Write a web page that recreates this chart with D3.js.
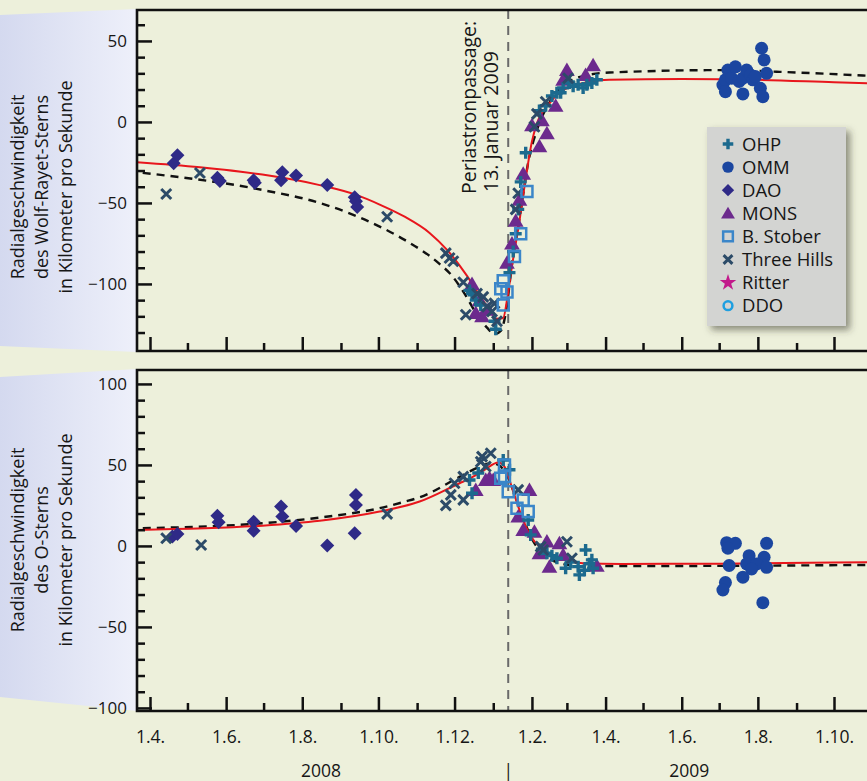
<!DOCTYPE html>
<html><head><meta charset="utf-8">
<script src="https://cdn.jsdelivr.net/npm/d3@7"></script>
<style>
html,body{margin:0;padding:0;background:#EDF0DB;}
svg{display:block;}
text{font-family:"Open Sans","DejaVu Sans",sans-serif;fill:#161616;}
</style></head><body>
<svg id="chart" width="867" height="781"></svg>
<script>
// ---------- DATA ----------
const periastron = "2009-01-13";
const xMajorLabels = ["1.4.","1.6.","1.8.","1.10.","1.12.","1.2.","1.4.","1.6.","1.8.","1.10."];
const yearLabels = [["2008","2008-08-16"],["|","2009-01-13"],["2009","2009-06-07"]];
const legendNames = ["OHP","OMM","DAO","MONS","B. Stober","Three Hills","Ritter","DDO"];
const wrTitle = ["Radialgeschwindigkeit","des Wolf-Rayet-Sterns","in Kilometer pro Sekunde"];
const oTitle = ["Radialgeschwindigkeit","des O-Sterns","in Kilometer pro Sekunde"];
const wrTicks = [-100,-50,0,50];
const oTicks = [-100,-50,0,50,100];

// Wolf-Rayet star (top panel)
const wrDAO = [["2008-04-20",-25.5],["2008-04-23",-20.5],["2008-05-25",-34.5],["2008-05-27",-36.5],["2008-06-23",-36],["2008-06-24",-37.5],["2008-07-15",-36],["2008-07-16",-31],["2008-07-27",-33],["2008-08-21",-39],["2008-09-12",-46.5],["2008-09-13",-49],["2008-09-14",-52.5]];
const wrOMM = [["2009-07-04",22.8],["2009-07-06",26],["2009-07-06",18.7],["2009-07-08",32],["2009-07-11",27],["2009-07-14",34],["2009-07-17",25],["2009-07-20",27],["2009-07-20",17.3],["2009-07-23",32],["2009-07-26",29],["2009-07-28",26],["2009-07-30",28],["2009-08-03",20.8],["2009-08-04",45.5],["2009-08-05",15.6],["2009-08-06",38.3],["2009-08-08",30]];
const wrMONS = [["2008-12-15",-100],["2008-12-18",-118],["2008-12-21",-110],["2008-12-23",-120],["2008-12-28",-116],["2009-01-12",-87],["2009-01-16",-75],["2009-01-19",-61],["2009-01-22",-48],["2009-01-25",-32],["2009-02-01",-2],["2009-02-07",-15],["2009-02-09",1],["2009-02-13",-7],["2009-02-20",10],["2009-02-26",26],["2009-03-01",32],["2009-03-16",29],["2009-03-22",35]];
const wrOHP = [["2008-12-13",-104],["2008-12-15",-106],["2008-12-18",-110],["2008-12-22",-113],["2009-01-02",-123],["2009-01-03",-128],["2009-01-14",-93],["2009-01-17",-80],["2009-01-19",-69],["2009-01-21",-54],["2009-01-23",-37],["2009-01-27",-19],["2009-02-07",7],["2009-02-12",10],["2009-02-17",16],["2009-02-21",18],["2009-02-24",18],["2009-02-26",21],["2009-03-03",24],["2009-03-06",22],["2009-03-10",23],["2009-03-14",21],["2009-03-17",23],["2009-03-21",24],["2009-03-25",26]];
const wrThreeHills = [["2008-04-14",-44.5],["2008-05-11",-31.5],["2008-10-08",-58.5],["2008-11-24",-81],["2008-11-27",-84],["2008-11-30",-86],["2008-12-08",-99],["2008-12-10",-119],["2008-12-19",-106],["2008-12-24",-108],["2008-12-27",-114],["2008-12-31",-117],["2009-01-02",-112],["2009-01-04",-123],["2009-01-19",-54],["2009-01-21",-44],["2009-02-03",-3],["2009-02-05",5],["2009-02-12",12.5],["2009-03-02",27]];
const wrStober = [["2009-01-07",-103],["2009-01-09",-98],["2009-01-09",-113],["2009-01-12",-105],["2009-01-18",-83],["2009-01-23",-69],["2009-01-28",-43]];
const wrRitter = [];
const wrDDO = [];
const wrFitRed = [["2008-03-15",-24.5],["2008-05-11",-28],["2008-06-30",-32.5],["2008-08-15",-39],["2008-09-15",-45.5],["2008-10-02",-51],["2008-10-22",-58.5],["2008-11-11",-68.5],["2008-11-25",-79],["2008-12-11",-95],["2008-12-21",-107],["2008-12-29",-116],["2009-01-04",-121.5],["2009-01-09",-121],["2009-01-12",-110],["2009-01-16",-89],["2009-01-21",-66],["2009-01-28",-30],["2009-02-01",-12],["2009-02-05",-1],["2009-02-15",11.5],["2009-03-04",21.8],["2009-04-04",26],["2009-06-01",26.5],["2009-08-01",26],["2009-10-01",24.5],["2009-11-05",23.7]];
const wrFitDash = [["2008-03-15",-30.5],["2008-06-30",-42],["2008-08-15",-50],["2008-10-02",-64.6],["2008-10-22",-72.8],["2008-11-18",-87],["2008-11-29",-95],["2008-12-09",-106],["2008-12-19",-119],["2008-12-27",-127],["2009-01-02",-131],["2009-01-07",-129],["2009-01-11",-118],["2009-01-16",-88],["2009-01-23",-55],["2009-01-29",-25],["2009-02-05",-5],["2009-02-15",12],["2009-02-27",23],["2009-03-15",28.5],["2009-04-04",30.5],["2009-07-05",32],["2009-08-16",31],["2009-11-05",28.2]];

// O star (bottom panel)
const oDAO = [["2008-04-19",5.8],["2008-04-23",7.4],["2008-05-25",18.7],["2008-05-26",14.6],["2008-06-23",15],["2008-06-23",9.3],["2008-07-15",24.3],["2008-07-16",18.1],["2008-07-27",12.3],["2008-08-21",0.2],["2008-09-12",7.8],["2008-09-13",31.5],["2008-09-13",25.3]];
const oOMM = [["2009-07-07",2],["2009-07-14",1.6],["2009-08-08",1.6],["2009-07-08",-1.4],["2009-07-25",-6],["2009-08-06",-7],["2009-07-09",-12.1],["2009-07-23",-11.1],["2009-07-31",-11.1],["2009-07-27",-14.2],["2009-08-08",-13.2],["2009-07-20",-19.3],["2009-07-06",-22.6],["2009-07-04",-27.2],["2009-08-05",-35]];
const oMONS = [["2008-12-18",34.6],["2008-12-26",40.7],["2008-12-29",42],["2009-01-01",40.7],["2009-01-21",18.1],["2009-01-25",9.9],["2009-01-30",34.6],["2009-02-03",8.8],["2009-02-07",-4.5],["2009-02-13",2.7],["2009-02-15",-12.8],["2009-02-23",1.7],["2009-02-26",-5.6],["2009-03-25",-12.3]];
const oOHP = [["2008-12-13",40.7],["2008-12-15",32.5],["2008-12-20",45],["2009-01-09",53],["2009-01-14",47],["2009-01-29",16],["2009-01-31",6.8],["2009-02-09",-2],["2009-02-13",-4.5],["2009-02-17",-6],["2009-02-21",-7.6],["2009-02-28",-13.8],["2009-03-04",-10],["2009-03-10",-12.8],["2009-03-11",-17.9],["2009-03-15",-15],["2009-03-16",-2.5],["2009-03-19",-11],["2009-03-21",-8.6],["2009-03-22",-13.8]];
const oThreeHills = [["2008-04-14",4.7],["2008-05-12",0.6],["2008-10-08",19.8],["2008-11-24",25],["2008-11-28",31.5],["2008-12-01",38.7],["2008-12-08",28.4],["2008-12-08",42.8],["2008-12-22",52],["2008-12-23",55.1],["2008-12-26",49],["2008-12-30",57.2],["2009-01-21",34.6],["2009-02-08",-0.4],["2009-02-10",-2.5],["2009-03-01",2.6],["2009-03-05",-7.6]];
const oStober = [["2009-01-07",41.8],["2009-01-10",42.8],["2009-01-10",50],["2009-01-13",33.5],["2009-01-20",23.3],["2009-01-25",28.4],["2009-01-29",21.2]];
const oRitter = [];
const oDDO = [];
const oFitRed = [["2008-03-15",9.8],["2008-06-30",12.5],["2008-08-15",15.5],["2008-10-02",21.2],["2008-11-03",27.4],["2008-12-05",38.7],["2008-12-13",41.5],["2008-12-25",47],["2009-01-05",51.5],["2009-01-10",49],["2009-01-16",36],["2009-01-23",20],["2009-01-31",6],["2009-02-08",-1],["2009-02-15",-4.5],["2009-03-01",-9],["2009-03-14",-10.7],["2009-04-14",-11.1],["2009-07-01",-11],["2009-10-01",-10.2],["2009-11-05",-10]];
const oFitDash = [["2008-03-15",10.8],["2008-06-30",14],["2008-08-15",17.5],["2008-10-02",23.3],["2008-10-22",27.3],["2008-11-03",30],["2008-12-05",42.6],["2008-12-20",48.5],["2008-12-30",51],["2009-01-05",50],["2009-01-13",42],["2009-01-18",32],["2009-01-25",17],["2009-02-02",3],["2009-02-12",-6],["2009-02-25",-11],["2009-03-15",-12.5],["2009-07-01",-12.3],["2009-11-05",-11.7]];

// ---------- STYLES ----------
const styles = {
  "OHP":        {shape:"plus",     color:"#1C6A8E", filled:false, sw:3.4, s:6},
  "OMM":        {shape:"circle",   color:"#1B46A0", filled:true,  sw:0,   s:6.5},
  "DAO":        {shape:"diamond",  color:"#2F2A87", filled:true,  sw:0,   s:7},
  "MONS":       {shape:"triangle", color:"#6C2A8D", filled:true,  sw:0,   s:7.5},
  "B. Stober":  {shape:"square",   color:"#3B86C9", filled:false, sw:2.5, s:5.5},
  "Three Hills":{shape:"times",    color:"#2C4B68", filled:false, sw:3,   s:5},
  "Ritter":     {shape:"star",     color:"#C2198B", filled:true,  sw:0,   s:6.5},
  "DDO":        {shape:"circle",   color:"#1E9FE0", filled:false, sw:2.5, s:5}
};
function symPath(shape, s){
  switch(shape){
    case "plus": return `M${-s},0H${s}M0,${-s}V${s}`;
    case "times": return `M${-s},${-s}L${s},${s}M${-s},${s}L${s},${-s}`;
    case "diamond": return `M0,${-s}L${s},0L0,${s}L${-s},0Z`;
    case "triangle": return `M0,${-s}L${s*1.05},${s*0.8}L${-s*1.05},${s*0.8}Z`;
    case "square": return `M${-s},${-s}H${s}V${s}H${-s}Z`;
    case "circle": return d3.symbol(d3.symbolCircle, Math.PI*s*s)();
    case "star": return d3.symbol(d3.symbolStar, s*s*2.6)();
  }
}

// ---------- CHART ----------
const W=867, H=781, left=137, right=867;
const svg = d3.select("#chart");
const defs = svg.append("defs");
const grad = defs.append("linearGradient").attr("id","lav").attr("x1","0").attr("x2","1").attr("y1","0").attr("y2","0");
grad.append("stop").attr("offset","0").attr("stop-color","#D4D9EF");
grad.append("stop").attr("offset","1").attr("stop-color","#EEF0FA");
const f = defs.append("filter").attr("id","shadow").attr("x","-20%").attr("y","-20%").attr("width","150%").attr("height","150%");
f.append("feDropShadow").attr("dx",4).attr("dy",4).attr("stdDeviation",3.5).attr("flood-color","#3a3a30").attr("flood-opacity",0.55);

svg.append("rect").attr("width",W).attr("height",H).attr("fill","#EDF0DB");

const parse = d3.utcParse("%Y-%m-%d");
const x = d3.scaleUtc().domain([parse("2008-04-01"), parse("2009-10-01")]).range([150, 834]);
const months = d3.utcMonth.range(parse("2008-04-01"), parse("2009-10-02"));
const majors = months.filter(d => d.getUTCMonth() % 2 === 1);
const minors = months.filter(d => d.getUTCMonth() % 2 === 0);

const panels = [
  {top:10, bottom:351, y:d3.scaleLinear().domain([-141.4, 69.1]).range([351,10]), ticks:wrTicks, minorRange:[-130,60], title:wrTitle, cy:187, lav:[[0,15],[137,9],[137,352],[0,346]],
   series:{"DAO":wrDAO,"OMM":wrOMM,"MONS":wrMONS,"OHP":wrOHP,"Three Hills":wrThreeHills,"B. Stober":wrStober,"Ritter":wrRitter,"DDO":wrDDO}, red:wrFitRed, dash:wrFitDash, labels:false},
  {top:370, bottom:711, y:d3.scaleLinear().domain([-101.9, 108.6]).range([711,370]), ticks:oTicks, minorRange:[-90,100], title:oTitle, cy:540, lav:[[0,377],[137,369],[137,711],[0,697]],
   series:{"DAO":oDAO,"OMM":oOMM,"MONS":oMONS,"OHP":oOHP,"Three Hills":oThreeHills,"B. Stober":oStober,"Ritter":oRitter,"DDO":oDDO}, red:oFitRed, dash:oFitDash, labels:true}
];
const drawOrder = ["DAO","OMM","MONS","OHP","Three Hills","B. Stober","Ritter","DDO"];
const px = x(parse(periastron));

panels.forEach((p,i) => {
  svg.append("path").attr("d", d3.line()(p.lav) + "Z").attr("fill","url(#lav)");
  const clipId = "clip"+i;
  defs.append("clipPath").attr("id",clipId).append("rect").attr("x",left).attr("y",p.top).attr("width",right-left+5).attr("height",p.bottom-p.top);
  const g = svg.append("g").attr("clip-path",`url(#${clipId})`);
  g.append("line").attr("x1",px).attr("x2",px).attr("y1",p.top).attr("y2",p.bottom)
    .attr("stroke","#6a6a6a").attr("stroke-width",2).attr("stroke-dasharray","9,7");
  const line = d3.line().x(d=>x(parse(d[0]))).y(d=>p.y(d[1])).curve(d3.curveMonotoneX);
  g.append("path").attr("d",line(p.dash)).attr("fill","none").attr("stroke","#111").attr("stroke-width",2.4).attr("stroke-dasharray","8,6");
  g.append("path").attr("d",line(p.red)).attr("fill","none").attr("stroke","#E8161C").attr("stroke-width",2);
  drawOrder.forEach(name => {
    const st = styles[name];
    g.selectAll(null).data(p.series[name]).join("path")
      .attr("transform", d => `translate(${x(parse(d[0]))},${p.y(d[1])})`)
      .attr("d", symPath(st.shape, st.s))
      .attr("fill", st.filled ? st.color : "none")
      .attr("stroke", st.filled ? "none" : st.color)
      .attr("stroke-width", st.sw);
  });
  const yMinor = d3.range(p.minorRange[0], p.minorRange[1]+1, 10).filter(v => v % 50 !== 0);
  const ax = svg.append("g").attr("transform",`translate(${left},0)`)
    .call(d3.axisLeft(p.y).tickValues(p.ticks).tickSizeInner(-15).tickSizeOuter(0).tickPadding(10));
  const axm = svg.append("g").attr("transform",`translate(${left},0)`)
    .call(d3.axisLeft(p.y).tickValues(yMinor).tickSizeInner(-8).tickSizeOuter(0).tickFormat(""));
  const bx = svg.append("g").attr("transform",`translate(0,${p.bottom})`)
    .call(d3.axisBottom(x).tickValues(majors).tickSizeInner(-14).tickSizeOuter(0).tickPadding(20)
      .tickFormat((d,k) => p.labels ? xMajorLabels[k] : ""));
  const bxm = svg.append("g").attr("transform",`translate(0,${p.bottom})`)
    .call(d3.axisBottom(x).tickValues(minors).tickSizeInner(-8).tickSizeOuter(0).tickFormat(""));
  [ax,axm,bx,bxm].forEach(a => {
    a.select(".domain").remove();
    a.selectAll(".tick line").attr("stroke","#111").attr("stroke-width",2.5);
    a.selectAll("text").attr("font-family","'DejaVu Sans',sans-serif").attr("font-size",17).attr("fill","#161616");
  });
  bx.selectAll("text").attr("font-family","'Open Sans',sans-serif").attr("font-size",17.5);
  svg.append("path").attr("d",`M${right+2},${p.top}H${left}V${p.bottom}H${right+2}`)
    .attr("fill","none").attr("stroke","#111").attr("stroke-width",2.6);
  const tg = svg.append("g").attr("transform",`translate(0,${p.cy})`);
  p.title.forEach((t,k) => {
    tg.append("text").attr("transform",`translate(${24+k*24},0) rotate(-90)`)
      .attr("text-anchor","middle").attr("font-size",18).text(t);
  });
});

// periastron annotation
svg.append("text").attr("transform",`translate(${px-32},194) rotate(-90)`).attr("font-size",19.5).text("Periastronpassage:");
svg.append("text").attr("transform",`translate(${px-10},192) rotate(-90)`).attr("font-size",19.5).text("13. Januar 2009");

// year labels
yearLabels.forEach(([t,d]) => {
  svg.append("text").attr("x",x(parse(d))).attr("y",777).attr("text-anchor","middle").attr("font-size",17.5).text(t);
});

// legend
const lg = svg.append("g").attr("transform","translate(707,127)");
lg.append("rect").attr("width",139).attr("height",199).attr("fill","#D3D4D2").attr("filter","url(#shadow)");
legendNames.forEach((name,k) => {
  const st = styles[name];
  const yy = 17 + k*23.1;
  lg.append("path").attr("transform",`translate(21,${yy})`)
    .attr("d", symPath(st.shape, st.s*0.88))
    .attr("fill", st.filled ? st.color : "none")
    .attr("stroke", st.filled ? "none" : st.color)
    .attr("stroke-width", st.sw);
  lg.append("text").attr("x",35).attr("y",yy).attr("dy","0.36em").attr("font-size",18.5).text(name);
});
</script></body></html>
